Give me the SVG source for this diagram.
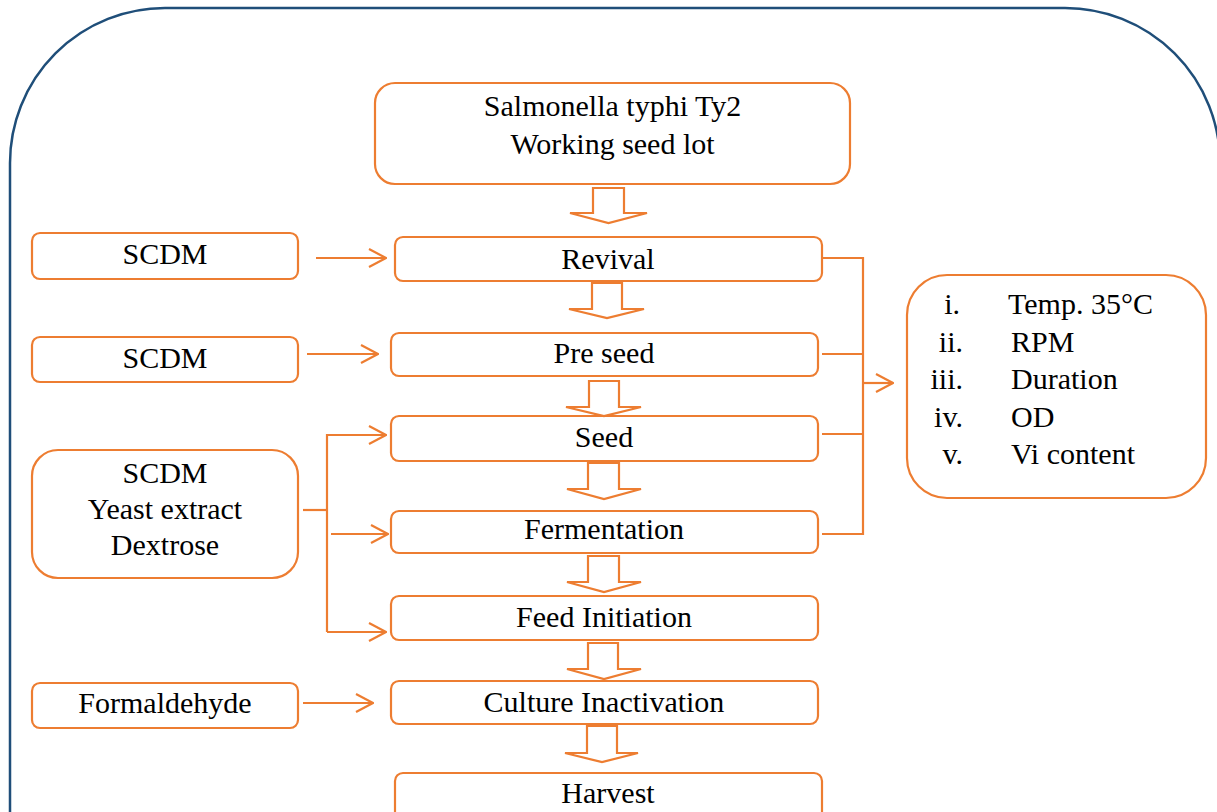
<svg xmlns="http://www.w3.org/2000/svg" width="1217" height="812" viewBox="0 0 1217 812">
<defs>
<style>
.box{fill:#fff;stroke:#ED7D31;stroke-width:2.2}
.ln{fill:none;stroke:#ED7D31;stroke-width:2.2}
.blk{fill:#fff;stroke:#ED7D31;stroke-width:2.2;stroke-linejoin:miter}
.t{font-family:"Liberation Serif","Times New Roman",serif;font-size:30px;fill:#000;text-anchor:middle}
.s{font-family:"Liberation Serif","Times New Roman",serif;font-size:30px;fill:#000}
</style>
<marker id="open" viewBox="0 0 20 20" refX="19" refY="10" markerWidth="20" markerHeight="20" markerUnits="userSpaceOnUse" orient="auto">
<path d="M2,1 L19,10 L2,19" fill="none" stroke="#ED7D31" stroke-width="2.2"/>
</marker>
</defs>
<rect width="1217" height="812" fill="#fff"/>
<rect id="frame" x="10" y="8" width="1210" height="1000" rx="155" ry="155" fill="none" stroke="#1F4E79" stroke-width="2.5"/>

<g id="n-seedlot"><rect class="box" x="375" y="83" width="475" height="101" rx="20"/><text class="t" x="612.5" y="116">Salmonella typhi Ty2</text><text class="t" x="612.5" y="154">Working seed lot</text></g>
<g id="n-revival"><rect class="box" x="395" y="237" width="427" height="44" rx="8"/><text class="t" x="608" y="269">Revival</text></g>
<g id="n-preseed"><rect class="box" x="391" y="333" width="427" height="43" rx="8"/><text class="t" x="604" y="363">Pre seed</text></g>
<g id="n-seed"><rect class="box" x="391" y="416" width="427" height="45" rx="8"/><text class="t" x="604" y="447">Seed</text></g>
<g id="n-ferm"><rect class="box" x="391" y="511" width="427" height="42" rx="8"/><text class="t" x="604" y="539">Fermentation</text></g>
<g id="n-feed"><rect class="box" x="391" y="596" width="427" height="44" rx="8"/><text class="t" x="604" y="627">Feed Initiation</text></g>
<g id="n-inact"><rect class="box" x="391" y="681" width="427" height="43" rx="8"/><text class="t" x="604" y="712">Culture Inactivation</text></g>
<g id="n-harvest"><rect class="box" x="395" y="773" width="427" height="60" rx="8"/><text class="t" x="608" y="803">Harvest</text></g>

<g id="n-scdm1"><rect class="box" x="32" y="233" width="266" height="46" rx="8"/><text class="t" x="165" y="264">SCDM</text></g>
<g id="n-scdm2"><rect class="box" x="32" y="337" width="266" height="45" rx="8"/><text class="t" x="165" y="368">SCDM</text></g>
<g id="n-media"><rect class="box" x="32" y="450" width="266" height="128" rx="26"/><text class="t" x="165" y="483">SCDM</text><text class="t" x="165" y="519">Yeast extract</text><text class="t" x="165" y="555">Dextrose</text></g>
<g id="n-formal"><rect class="box" x="32" y="683" width="266" height="45" rx="8"/><text class="t" x="165" y="713">Formaldehyde</text></g>

<g id="n-params"><rect class="box" x="907" y="275" width="299" height="223" rx="40"/>
<text class="s" x="960" y="314" text-anchor="end">i.</text><text class="s" x="1008" y="314">Temp. 35°C</text>
<text class="s" x="963" y="352" text-anchor="end">ii.</text><text class="s" x="1011" y="352">RPM</text>
<text class="s" x="963" y="389" text-anchor="end">iii.</text><text class="s" x="1011" y="389">Duration</text>
<text class="s" x="963" y="427" text-anchor="end">iv.</text><text class="s" x="1011" y="427">OD</text>
<text class="s" x="963" y="464" text-anchor="end">v.</text><text class="s" x="1011" y="464">Vi content</text>
</g>

<g id="connectors">
<polygon class="blk" points="593,188 624,188 624,213 647,213 608.5,223 570,213 593,213"/>
<polygon class="blk" points="592,283 622,283 622,309 644,309 607,318 569,309 592,309"/>
<polygon class="blk" points="589,381 619,381 619,407 641,407 604,416 566,407 589,407"/>
<polygon class="blk" points="588,463 619,463 619,489 641,489 604,499 567,489 588,489"/>
<polygon class="blk" points="588,556 619,556 619,582 641,582 604,592 567,582 588,582"/>
<polygon class="blk" points="588,643 618,643 618,669 641,669 604,679 567,669 588,669"/>
<polygon class="blk" points="587,726 617,726 617,753 638,753 602,762 565,753 587,753"/>

<line class="ln" x1="316" y1="258" x2="386" y2="258" marker-end="url(#open)"/>
<line class="ln" x1="307" y1="354" x2="378" y2="354" marker-end="url(#open)"/>
<line class="ln" x1="303" y1="703" x2="373" y2="703" marker-end="url(#open)"/>

<polyline class="ln" points="303,510 327,510"/>
<polyline class="ln" points="327,632 327,435 386,435" marker-end="url(#open)"/>
<line class="ln" x1="331" y1="534" x2="388" y2="534" marker-end="url(#open)"/>
<line class="ln" x1="327" y1="632" x2="386" y2="632" marker-end="url(#open)"/>

<polyline class="ln" points="822,258 863,258 863,534 822,534"/>
<line class="ln" x1="822" y1="354" x2="863" y2="354"/>
<line class="ln" x1="822" y1="434" x2="863" y2="434"/>
<line class="ln" x1="863" y1="383" x2="893" y2="383" marker-end="url(#open)"/>
</g>
</svg>
